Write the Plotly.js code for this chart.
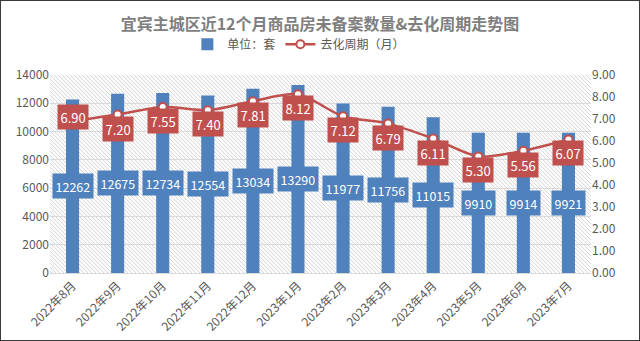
<!DOCTYPE html>
<html><head><meta charset="utf-8">
<script src="https://cdn.plot.ly/plotly-3.0.1.min.js"></script>
<style>html,body{margin:0;padding:0;background:#fff}#c{width:638px;height:339px;border:1px solid #3a3a3a}</style>
</head><body><div id="c"></div>
<script>
const months = ['2022年8月','2022年9月','2022年10月','2022年11月','2022年12月','2023年1月','2023年2月','2023年3月','2023年4月','2023年5月','2023年6月','2023年7月'];
const unsold = [12262,12675,12734,12554,13034,13290,11977,11756,11015,9910,9914,9921];
const cycle = [6.90,7.20,7.55,7.40,7.81,8.12,7.12,6.79,6.11,5.30,5.56,6.07];

const blue = '#4f81bd', red = '#c0504d';
const FONT = '"Noto Sans CJK SC", "Microsoft YaHei", sans-serif';

// hatched plot background (decorative)
const hatchSvg = '<svg xmlns="http://www.w3.org/2000/svg" width="541" height="198">' +
  '<defs><pattern id="h" width="4" height="4" patternUnits="userSpaceOnUse">' +
  '<path d="M-1,-1 L5,5 M-1,3 L1,5 M3,-1 L5,1" stroke="#d6d6d6" stroke-width="0.9"/></pattern></defs>' +
  '<rect width="541" height="198" fill="#fbfbfb"/><rect width="541" height="198" fill="url(#h)"/></svg>';
const hatchURI = 'data:image/svg+xml;charset=utf-8,' + encodeURIComponent(hatchSvg);

const traces = [
  {type:'bar', name:'单位：套', x:months, y:unsold, marker:{color:blue}, width:0.29, hoverinfo:'x+y'},
  {type:'scatter', mode:'lines+markers', name:'去化周期（月）', x:months, y:cycle, yaxis:'y2',
   line:{color:red, width:2.5, shape:'spline', smoothing:0.8},
   marker:{symbol:'circle', size:8, color:'#fff', line:{color:red, width:2}}}
];

const ann = [];
months.forEach((m,i)=>{
  ann.push({x:m, y:unsold[i]/2, xref:'x', yref:'y', text:String(unsold[i]), showarrow:false,
    bgcolor:blue, font:{color:'#fff', size:12.5, family:FONT}, borderpad:2.5});
  ann.push({x:m, y:cycle[i], xref:'x', yref:'y2', text:cycle[i].toFixed(2), showarrow:false,
    yshift:(i===0?4:-14), bgcolor:red, font:{color:'#fff', size:13, family:FONT}, borderpad:2.5});
});

const layout = {
  width:638, height:339,
  margin:{l:49, r:48, t:74, b:67},
  paper_bgcolor:'#fff', plot_bgcolor:'rgba(0,0,0,0)',
  font:{family:FONT, color:'#595959', size:12},
  title:{text:'<b>宜宾主城区近12个月商品房未备案数量&去化周期走势图</b>', x:0.5, xanchor:'center', y:0.93, yanchor:'middle', font:{size:16, color:'#7f7f7f', family:FONT}},
  showlegend:true,
  legend:{orientation:'h', x:0.46, xanchor:'center', y:1.155, yanchor:'middle', font:{size:12, color:'#595959'}, traceorder:'normal'},
  images:[{source:hatchURI, xref:'paper', yref:'paper', x:0, y:1, sizex:1, sizey:1, xanchor:'left', yanchor:'top', sizing:'stretch', layer:'below'}],
  xaxis:{automargin:false, range:[-0.5,11.5], autorange:false, tickangle:-45, showgrid:false, showline:true, linecolor:'#d9d9d9', ticks:'', tickfont:{size:12, color:'#595959'}},
  yaxis:{automargin:false, range:[0,14000], dtick:2000, showgrid:true, gridcolor:'#d9d9d9', zeroline:false, tickfont:{size:12, color:'#595959'}, ticks:'', tickformat:'d'},
  yaxis2:{automargin:false, overlaying:'y', side:'right', range:[0,9], dtick:1, tickformat:'.2f', showgrid:false, zeroline:false, tickfont:{size:12, color:'#595959'}},
  annotations:ann
};
Plotly.newPlot('c', traces, layout, {displayModeBar:false, staticPlot:true});
</script></body></html>
